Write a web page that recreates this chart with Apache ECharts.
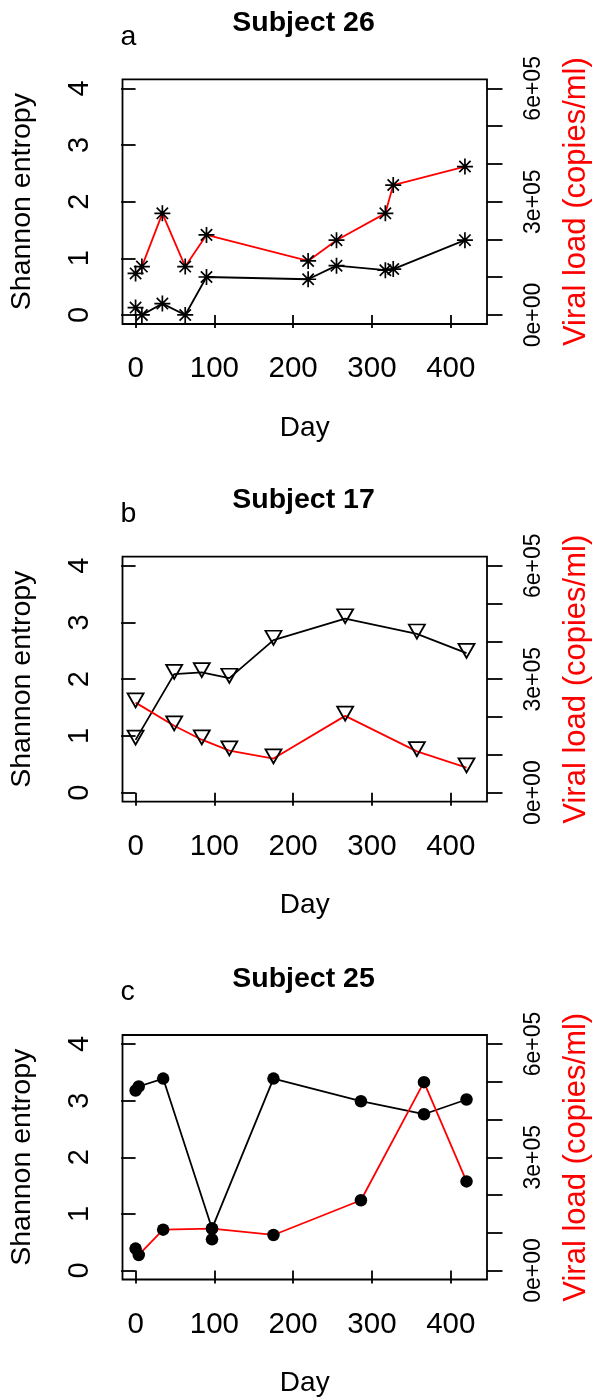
<!DOCTYPE html>
<html>
<head>
<meta charset="utf-8">
<script src="https://cdn.jsdelivr.net/npm/echarts@6/dist/echarts.min.js"></script>
<style>
html,body{margin:0;padding:0;background:#fff;}
#chart{width:600px;height:1400px;}
</style>
</head>
<body>
<div id="chart"></div>
<script>
// ---- data ----
const xTicks = [0, 100, 200, 300, 400];
const leftTicks = [0, 1, 2, 3, 4];
const rightTicks = [0, 100000, 200000, 300000, 400000, 500000, 600000];
const rightLabels = [0, 300000, 600000];

const titles = ['Subject 26', 'Subject 17', 'Subject 25'];
const letters = ['a', 'b', 'c'];

// Subject 26
const daysA = [0, 8, 34, 63, 90, 219, 255, 317, 327, 418];
const entropyA = [0.13, 0.0, 0.2, 0.0, 0.67, 0.63, 0.87, 0.79, 0.81, 1.32];
const viralA = [110000, 128000, 269000, 128000, 212000, 143000, 198000, 269000, 344000, 393000];

// Subject 17
const daysB = [0, 49, 84, 119, 175, 266, 357, 420];
const entropyB = [0.93, 2.09, 2.12, 2.02, 2.69, 3.07, 2.80, 2.46];
const viralB = [238000, 177000, 140000, 111000, 90000, 203000, 109000, 66000];

// Subject 25
const daysC = [0, 4, 35, 97, 175, 286, 366, 420];
const entropyC = [3.18, 3.25, 3.39, 0.74, 3.39, 2.99, 2.76, 3.02];
const viralC = [58000, 41000, 108000, 111000, 94000, 186000, 499000, 236000];
const extraDaysC = [97];
const extraEntropyC = [0.55];

// ---- layout ----
const FONT = '"Liberation Sans", Arial, Helvetica, sans-serif';
const grids = [
  {left: 119.5, top: 79.3, width: 368.2, height: 244.7},
  {left: 120, top: 556.7, width: 368, height: 245},
  {left: 120, top: 1035, width: 368, height: 244.5}
];
const panelOffsets = [0, 477, 955.5];
const LW = 1.8;

const asterisk = 'path://M10,0L10,20M0,10L20,10M2.93,2.93L17.07,17.07M2.93,17.07L17.07,2.93';
const triDown = 'path://M0,0L20,0L10,17.32Z';
const markers = [
  {symbol: asterisk, symbolSize: 16, itemStyle: {color: 'none', borderColor: '#000', borderWidth: 1.7}},
  {symbol: triDown, symbolSize: [16, 14], symbolOffset: [0, -2.3], itemStyle: {color: 'none', borderColor: '#000', borderWidth: 1.8}},
  {symbol: 'circle', symbolSize: 12.5, itemStyle: {color: '#000', borderWidth: 0, opacity: 1}}
];

function expFmt(v) {
  const parts = Number(v).toExponential(0).split('e');
  let e = parseInt(parts[1], 10);
  const sign = e < 0 ? '-' : '+';
  e = Math.abs(e);
  return parts[0] + 'e' + sign + (e < 10 ? '0' + e : '' + e);
}

const zip = (xs, ys) => xs.map((x, i) => [x, ys[i]]);

const panels = [
  {days: daysA, ent: entropyA, vl: viralA},
  {days: daysB, ent: entropyB, vl: viralB},
  {days: daysC, ent: entropyC, vl: viralC}
];

const xAxes = [], yAxes = [], series = [], graphics = [];
panels.forEach((p, i) => {
  xAxes.push({
    type: 'value', gridIndex: i, min: -16.6, max: 446,
    axisLine: {show: false}, splitLine: {show: false},
    axisTick: {show: true, length: 13, customValues: xTicks, lineStyle: {color: '#000', width: LW}},
    axisLabel: {customValues: xTicks, fontSize: 29.5, color: '#000', margin: 30, fontFamily: FONT},
    name: 'Day', nameLocation: 'middle', nameGap: 90,
    nameTextStyle: {fontSize: 28, color: '#000', fontFamily: FONT}
  });
  yAxes.push({
    type: 'value', gridIndex: i, position: 'left', min: -0.16, max: 4.16,
    axisLine: {show: false}, splitLine: {show: false},
    axisTick: {show: true, length: 14.5, customValues: leftTicks, lineStyle: {color: '#000', width: LW}},
    axisLabel: {customValues: leftTicks, rotate: 90, fontSize: 29, color: '#000', margin: 28, fontFamily: FONT},
    name: 'Shannon entropy', nameLocation: 'middle', nameGap: 85.5, nameRotate: 90,
    nameTextStyle: {fontSize: 28.5, color: '#000', fontFamily: FONT}
  });
  yAxes.push({
    type: 'value', gridIndex: i, position: 'right', min: -24000, max: 624000,
    axisLine: {show: false}, splitLine: {show: false},
    axisTick: {show: true, length: 15.5, customValues: rightTicks, lineStyle: {color: '#000', width: LW}},
    axisLabel: {customValues: rightLabels, rotate: 90, fontSize: 23, color: '#000', margin: 35.5, fontFamily: FONT, formatter: expFmt},
    name: 'Viral load (copies/ml)', nameLocation: 'middle', nameGap: 74, nameRotate: 90,
    nameTextStyle: {fontSize: 31, color: '#ff0000', fontFamily: FONT}
  });
  const m = markers[i];
  series.push(Object.assign({
    type: 'line', xAxisIndex: i, yAxisIndex: 2 * i,
    data: zip(p.days, p.ent),
    lineStyle: {color: '#000', width: LW},
    showSymbol: true, showAllSymbol: true, silent: true, animation: false, z: 2
  }, m));
  series.push(Object.assign({
    type: 'line', xAxisIndex: i, yAxisIndex: 2 * i + 1,
    data: zip(p.days, p.vl),
    lineStyle: {color: '#ff0000', width: LW},
    showSymbol: true, showAllSymbol: true, silent: true, animation: false, z: 3
  }, m));
  const off = panelOffsets[i];
  graphics.push({
    type: 'text', x: 303.5, y: 23.5 + off, silent: true,
    style: {text: titles[i], fontSize: 28.5, fontWeight: 'bold', fontFamily: FONT, fill: '#000', align: 'center', verticalAlign: 'middle'}
  });
  graphics.push({
    type: 'text', x: 120.5, y: 37 + off, silent: true,
    style: {text: letters[i], fontSize: 28.5, fontFamily: FONT, fill: '#000', align: 'left', verticalAlign: 'middle'}
  });
});

series.push({
  type: 'scatter', xAxisIndex: 2, yAxisIndex: 4,
  data: zip(extraDaysC, extraEntropyC),
  symbol: 'circle', symbolSize: 12.5, itemStyle: {color: '#000', opacity: 1}, silent: true, animation: false, z: 4
});

const chart = echarts.init(document.getElementById('chart'), null, {renderer: 'canvas'});
chart.setOption({
  animation: false,
  backgroundColor: '#fff',
  grid: grids.map(g => Object.assign({show: true, borderColor: '#000', borderWidth: LW, backgroundColor: 'transparent', containLabel: false}, g)),
  xAxis: xAxes,
  yAxis: yAxes,
  series: series,
  graphic: graphics
});
</script>
</body>
</html>
